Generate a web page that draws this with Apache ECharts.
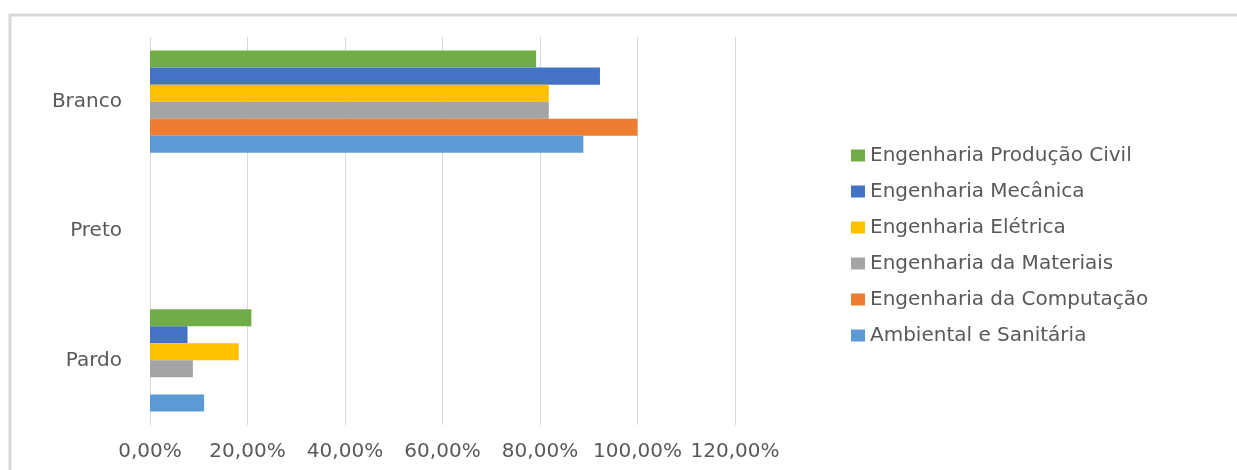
<!DOCTYPE html>
<html>
<head>
<meta charset="utf-8">
<script src="https://cdn.jsdelivr.net/npm/echarts@6/dist/echarts.min.js"></script>
<style>
html,body{margin:0;padding:0;background:#fff;}
#c{width:1237px;height:470px;}
</style>
</head>
<body>
<div id="c"></div>
<script>
var categories = ['Branco', 'Preto', 'Pardo'];
var seriesNames = ['Engenharia Produção Civil', 'Engenharia Mecânica', 'Engenharia Elétrica', 'Engenharia da Materiais', 'Engenharia da Computação', 'Ambiental e Sanitária'];
var producaoCivil = [79.2, 0, 20.8];
var mecanica = [92.3, 0, 7.7];
var eletrica = [81.8, 0, 18.2];
var materiais = [81.8, 0, 8.8];
var computacao = [100, 0, 0];
var ambiental = [88.9, 0, 11.1];
var xTickLabels = ['0,00%', '20,00%', '40,00%', '60,00%', '80,00%', '100,00%', '120,00%'];
var colors = ['#70AD47', '#4472C4', '#FFC000', '#A5A5A5', '#ED7D31', '#5B9BD5'];

var allValues = [producaoCivil, mecanica, eletrica, materiais, computacao, ambiental];
var font = 'DejaVu Sans';
var chart = echarts.init(document.getElementById('c'), null, {renderer: 'canvas'});
chart.setOption({
  animation: false,
  backgroundColor: '#ffffff',
  color: colors,
  graphic: [{
    type: 'rect', z: -10,
    shape: {x: 10, y: 15, width: 1400, height: 600},
    style: {fill: 'none', stroke: '#d9d9d9', lineWidth: 3}
  }],
  grid: {left: 150, right: 502, top: 37, bottom: 45},
  legend: {
    orient: 'vertical', left: 846, top: 140,
    itemWidth: 14, itemHeight: 12, itemGap: 15,
    icon: 'rect',
    textStyle: {fontFamily: font, fontSize: 20, color: '#595959', lineHeight: 21},
    data: seriesNames
  },
  xAxis: {
    type: 'value', min: 0, max: 120, interval: 20,
    axisLine: {show: false}, axisTick: {show: false},
    splitLine: {lineStyle: {color: '#d9d9d9', width: 1}},
    axisLabel: {
      margin: 17, fontFamily: font, fontSize: 20, color: '#595959',
      formatter: function (v) { return xTickLabels[Math.round(v / 20)]; }
    }
  },
  yAxis: {
    type: 'category', data: categories, inverse: true,
    axisLine: {show: false}, axisTick: {show: false},
    axisLabel: {margin: 28, fontFamily: font, fontSize: 20, color: '#595959'}
  },
  series: seriesNames.map(function (n, i) {
    return {
      name: n, type: 'bar', data: allValues[i],
      barGap: '0%', barCategoryGap: '21%'
    };
  })
});
</script>
</body>
</html>
